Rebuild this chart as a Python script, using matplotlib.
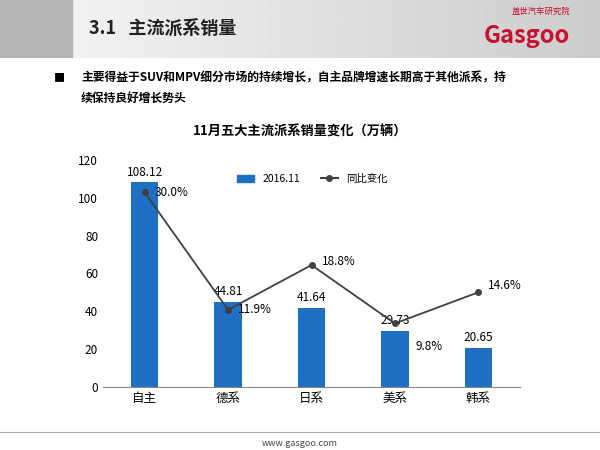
import matplotlib
matplotlib.use("Agg")
import matplotlib.pyplot as plt
from matplotlib import font_manager as fm
from matplotlib.patches import Rectangle
from matplotlib.lines import Line2D
import numpy as np

cjk = None
for f in fm.findSystemFonts():
    if 'NotoSansCJK' in f.replace(' ', '') or 'NotoSansSC' in f:
        try:
            fm.fontManager.addfont(f)
        except Exception:
            pass
names = [f.name for f in fm.fontManager.ttflist if 'CJK' in f.name]
fam = 'Noto Sans CJK SC' if 'Noto Sans CJK SC' in names else (names[0] if names else 'DejaVu Sans')
plt.rcParams['font.family'] = [fam, 'DejaVu Sans']

categories = ['自主', '德系', '日系', '美系', '韩系']
sales = [108.12, 44.81, 41.64, 29.73, 20.65]
yoy = [30.0, 11.9, 18.8, 9.8, 14.6]
yticks = [0, 20, 40, 60, 80, 100, 120]

fig = plt.figure(figsize=(6, 4.5), dpi=100)
hdr = fig.add_axes([0, 1 - 58/450, 1, 58/450])
hdr.axis('off')
grad = np.linspace(0.97, 0.80, 256).reshape(1, -1)
hdr.imshow(grad, cmap='gray', vmin=0, vmax=1, aspect='auto', extent=[0, 1, 0, 1])
hdr.add_patch(Rectangle((0, 0), 0.12, 1, color='#b5b5b5'))
hdr.set_xlim(0, 1); hdr.set_ylim(0, 1)
hdr.text(0.148, 0.5, '3.1   主流派系销量', fontsize=13, fontweight='bold', va='center', color='#222222')
hdr.text(0.95, 0.38, 'Gasgoo', fontsize=17, fontweight='bold', fontstyle='italic', color='#c8102e', ha='right', va='center')
hdr.text(0.95, 0.8, '盖世汽车研究院', fontsize=6, color='#c8102e', ha='right', va='center')

fig.text(0.09, 1 - 78/450, '■', fontsize=8, va='center')
fig.text(0.135, 1 - 78/450, '主要得益于SUV和MPV细分市场的持续增长，自主品牌增速长期高于其他派系，持', fontsize=8.5, fontweight='bold', va='center')
fig.text(0.135, 1 - 98/450, '续保持良好增长势头', fontsize=8.5, fontweight='bold', va='center')
fig.text(0.5, 1 - 132/450, '11月五大主流派系销量变化（万辆）', fontsize=9.5, fontweight='bold', ha='center', va='center')

ax = fig.add_axes([103/600, 1 - 387/450, 417/600, 227/450])
x = list(range(len(categories)))
ax.bar(x, sales, width=0.33, color='#1f6fc5', label='2016.11')
for xi, v in zip(x, sales):
    ax.text(xi, v + 2, f'{v:.2f}', ha='center', va='bottom', fontsize=8.5)
ax.set_ylim(0, 120)
ax.set_yticks(yticks)
ax.set_xlim(-0.5, 4.5)
ax.set_xticks(x)
ax.set_xticklabels(categories, fontsize=9)
ax.tick_params(axis='y', labelsize=8.5, length=0)
ax.tick_params(axis='x', length=0)
for s in ['top', 'right', 'left']:
    ax.spines[s].set_visible(False)
ax.spines['bottom'].set_color('#888888')

ax2 = ax.twinx()
ax2.plot(x, yoy, color='#404040', marker='o', markersize=4, linewidth=1.3, label='同比变化')
offs = [(0.12, 0), (0.12, 0), (0.12, 0.5), (0.25, -3.5), (0.12, 1)]
for xi, v, (dx, dy) in zip(x, yoy, offs):
    ax2.text(xi + dx, v + dy, f'{v:.1f}%', ha='left', va='center', fontsize=8.5)
ax2.set_ylim(0, 35)
ax2.axis('off')

h = [Rectangle((0, 0), 1, 1, color='#1f6fc5'), Line2D([], [], color='#404040', marker='o', markersize=4)]
ax.legend(h, ['2016.11', '同比变化'], loc='upper left', bbox_to_anchor=(0.3, 0.98), ncol=2, frameon=False, fontsize=7.5, handlelength=1.6)

fig.add_artist(Line2D([0.0, 1.0], [1 - 432/450] * 2, color='#aaaaaa', linewidth=0.8))
fig.text(0.5, 1 - 444/450, 'www.gasgoo.com', fontsize=6.5, ha='center', va='center', color='#444444')

fig.savefig('out.png', dpi=100)
